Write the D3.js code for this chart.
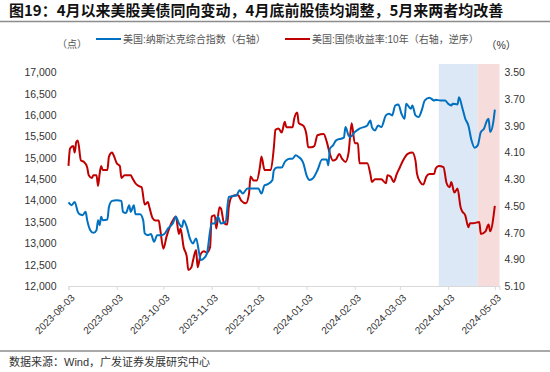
<!DOCTYPE html>
<html>
<head>
<meta charset="utf-8">
<script src="https://cdn.jsdelivr.net/npm/d3@7"></script>
<style>
  body { margin: 0; background: #fff; }
  svg text { font-family: "Liberation Sans", Arial, "Noto Sans CJK SC", sans-serif; }
</style>
</head>
<body>
<script>
// Data

const title = "图19：4月以来美股美债同向变动，4月底前股债均调整，5月来两者均改善";
const source = "数据来源：Wind，广发证券发展研究中心";
const seriesNames = ["美国:纳斯达克综合指数（右轴）", "美国:国债收益率:10年（右轴，逆序）"];
const leftTicks = [12000, 12500, 13000, 13500, 14000, 14500, 15000, 15500, 16000, 16500, 17000];
const rightTicks = [3.5, 3.7, 3.9, 4.1, 4.3, 4.5, 4.7, 4.9, 5.1];
const xTicks = ["2023-08-03", "2023-09-03", "2023-10-03", "2023-11-03", "2023-12-03",
  "2024-01-03", "2024-02-03", "2024-03-03", "2024-04-03", "2024-05-03"];
const xDomain = ["2023-08-03", "2024-05-06"];
const bands = [["2024-03-28", "2024-04-22"], ["2024-04-22", "2024-05-06"]];

const nasdaq = [
  ["2023-08-03",13959],["2023-08-05",13892],["2023-08-07",13969],["2023-08-09",13736],["2023-08-10",13682],
  ["2023-08-12",13659],["2023-08-14",13736],["2023-08-15",13542],["2023-08-17",13308],["2023-08-19",13245],
  ["2023-08-21",13308],["2023-08-22",13542],["2023-08-23",13425],["2023-08-24",13619],["2023-08-25",13542],
  ["2023-08-28",13558],["2023-08-29",13852],["2023-08-31",13993],["2023-09-03",14009],["2023-09-06",13993],
  ["2023-09-07",13736],["2023-09-09",13712],["2023-09-11",13892],["2023-09-12",13736],["2023-09-14",13892],
  ["2023-09-15",13682],["2023-09-18",13682],["2023-09-20",13542],["2023-09-21",13231],["2023-09-23",13191],
  ["2023-09-25",13215],["2023-09-27",13035],["2023-09-29",13191],["2023-10-02",13191],["2023-10-04",13231],
  ["2023-10-06",13348],["2023-10-07",13385],["2023-10-09",13465],["2023-10-11",13619],["2023-10-13",13465],
  ["2023-10-15",13385],["2023-10-16",13542],["2023-10-18",13385],["2023-10-20",13114],["2023-10-22",12997],
  ["2023-10-24",13114],["2023-10-26",12764],["2023-10-27",12607],["2023-10-29",12647],["2023-10-31",12764],
  ["2023-11-03",13465],["2023-11-05",13465],["2023-11-07",13619],["2023-11-09",13465],["2023-11-12",13502],
  ["2023-11-14",14086],["2023-11-16",14102],["2023-11-19",14126],["2023-11-21",14243],["2023-11-23",14165],
  ["2023-11-26",14282],["2023-11-29",14282],["2023-12-01",14282],["2023-12-03",14282],["2023-12-05",14165],
  ["2023-12-07",14359],["2023-12-09",14383],["2023-12-12",14476],["2023-12-13",14710],["2023-12-15",14773],
  ["2023-12-18",14773],["2023-12-20",14904],["2023-12-21",14943],["2023-12-23",14983],["2023-12-25",14983],
  ["2023-12-27",15060],["2023-12-29",15020],["2023-12-31",14943],["2024-01-01",14866],["2024-01-03",14593],
  ["2024-01-05",14483],["2024-01-07",14516],["2024-01-10",14710],["2024-01-13",14960],["2024-01-16",14960],
  ["2024-01-17",14827],["2024-01-18",15217],["2024-01-20",15294],["2024-01-22",15411],["2024-01-25",15450],
  ["2024-01-27",15474],["2024-01-28",15721],["2024-01-30",15527],["2024-01-31",15488],["2024-02-03",15604],
  ["2024-02-06",15684],["2024-02-11",15761],["2024-02-13",15878],["2024-02-14",15721],["2024-02-16",15644],
  ["2024-02-18",15761],["2024-02-20",15721],["2024-02-23",15995],["2024-02-25",16034],["2024-02-27",15995],
  ["2024-02-29",16228],["2024-03-02",16252],["2024-03-04",16034],["2024-03-06",15917],["2024-03-07",16268],
  ["2024-03-10",16151],["2024-03-11",16228],["2024-03-13",15995],["2024-03-15",15955],["2024-03-17",16111],
  ["2024-03-19",16345],["2024-03-22",16408],["2024-03-25",16345],["2024-03-26",16361],["2024-03-29",16345],
  ["2024-04-01",16345],["2024-04-03",16268],["2024-04-05",16228],["2024-04-06",16268],["2024-04-09",16252],
  ["2024-04-10",16422],["2024-04-12",16188],["2024-04-14",15917],["2024-04-16",15761],["2024-04-18",15411],
  ["2024-04-20",15240],["2024-04-22",15294],["2024-04-24",15604],["2024-04-26",15684],["2024-04-28",15878],
  ["2024-04-29",15917],["2024-04-30",15604],["2024-05-02",15838],["2024-05-03",16128]
];

const yield10y = [
  ["2023-08-03",4.20],["2023-08-04",4.07],["2023-08-06",4.05],["2023-08-07",4.10],["2023-08-08",4.02],
  ["2023-08-09",4.01],["2023-08-11",4.16],["2023-08-13",4.17],["2023-08-15",4.21],["2023-08-16",4.27],
  ["2023-08-18",4.29],["2023-08-19",4.27],["2023-08-21",4.27],["2023-08-22",4.35],["2023-08-23",4.26],
  ["2023-08-24",4.20],["2023-08-25",4.23],["2023-08-28",4.23],["2023-08-29",4.13],["2023-08-31",4.10],
  ["2023-09-01",4.12],["2023-09-03",4.18],["2023-09-05",4.20],["2023-09-06",4.29],["2023-09-08",4.27],
  ["2023-09-12",4.27],["2023-09-13",4.29],["2023-09-15",4.33],["2023-09-17",4.35],["2023-09-19",4.36],
  ["2023-09-21",4.49],["2023-09-23",4.47],["2023-09-24",4.51],["2023-09-26",4.59],["2023-09-28",4.61],
  ["2023-09-30",4.61],["2023-10-01",4.68],["2023-10-03",4.82],["2023-10-05",4.73],["2023-10-07",4.66],
  ["2023-10-09",4.61],["2023-10-11",4.58],["2023-10-13",4.71],["2023-10-14",4.67],["2023-10-16",4.81],
  ["2023-10-18",4.88],["2023-10-19",4.98],["2023-10-21",4.96],["2023-10-22",4.91],["2023-10-24",4.83],
  ["2023-10-25",4.96],["2023-10-27",4.86],["2023-10-29",4.84],["2023-10-31",4.85],["2023-11-02",4.81],
  ["2023-11-03",4.58],["2023-11-05",4.57],["2023-11-06",4.67],["2023-11-08",4.51],["2023-11-09",4.52],
  ["2023-11-11",4.63],["2023-11-13",4.64],["2023-11-14",4.51],["2023-11-16",4.43],["2023-11-18",4.42],
  ["2023-11-20",4.42],["2023-11-22",4.46],["2023-11-25",4.48],["2023-11-27",4.41],["2023-11-28",4.28],
  ["2023-11-30",4.31],["2023-12-02",4.31],["2023-12-04",4.21],["2023-12-05",4.13],["2023-12-07",4.23],
  ["2023-12-11",4.23],["2023-12-13",4.06],["2023-12-14",3.93],["2023-12-16",3.92],["2023-12-18",3.95],
  ["2023-12-20",3.87],["2023-12-21",3.91],["2023-12-25",3.91],["2023-12-26",3.85],["2023-12-28",3.80],
  ["2023-12-29",3.88],["2024-01-01",3.90],["2024-01-03",3.97],["2024-01-04",4.06],["2024-01-06",4.06],
  ["2024-01-08",4.05],["2024-01-10",3.97],["2024-01-14",3.96],["2024-01-16",4.02],["2024-01-18",4.11],
  ["2024-01-20",4.16],["2024-01-22",4.15],["2024-01-24",4.11],["2024-01-26",4.15],["2024-01-28",4.17],
  ["2024-01-30",4.10],["2024-02-01",3.88],["2024-02-03",4.03],["2024-02-05",4.03],["2024-02-06",4.18],
  ["2024-02-11",4.18],["2024-02-13",4.26],["2024-02-14",4.32],["2024-02-16",4.30],["2024-02-18",4.30],
  ["2024-02-20",4.30],["2024-02-23",4.33],["2024-02-24",4.27],["2024-02-26",4.28],["2024-02-28",4.32],
  ["2024-03-01",4.26],["2024-03-03",4.21],["2024-03-05",4.16],["2024-03-08",4.11],["2024-03-11",4.10],
  ["2024-03-13",4.16],["2024-03-14",4.26],["2024-03-16",4.32],["2024-03-18",4.34],["2024-03-20",4.28],
  ["2024-03-22",4.26],["2024-03-25",4.26],["2024-03-26",4.22],["2024-03-28",4.20],["2024-03-31",4.21],
  ["2024-04-02",4.33],["2024-04-04",4.36],["2024-04-05",4.32],["2024-04-07",4.40],["2024-04-09",4.37],
  ["2024-04-11",4.51],["2024-04-12",4.54],["2024-04-14",4.57],["2024-04-16",4.66],["2024-04-17",4.63],
  ["2024-04-19",4.63],["2024-04-23",4.62],["2024-04-24",4.71],["2024-04-27",4.69],["2024-04-29",4.64],
  ["2024-04-30",4.69],["2024-05-03",4.50]
];

// Set Dimensions

const width = 550, height = 372;
const plotLeft = 68.5, plotRight = 499.5, plotTop = 72.5, plotBottom = 286;
const blue = "#0070c0", red = "#c00000";
const parse = d3.timeParse("%Y-%m-%d");

const svg = d3.select("body").append("svg")
  .attr("width", width).attr("height", height);

// Header and footer

svg.append("text")
  .attr("x", 9).attr("y", 16)
  .attr("font-size", 15).attr("font-weight", "bold").attr("fill", "#111")
  .style("font-family", "\"Noto Sans CJK SC\", sans-serif")
  .text(title);

svg.append("line").attr("x1", 0).attr("x2", width).attr("y1", 21.5).attr("y2", 21.5)
  .attr("stroke", "#8c8c8c").attr("stroke-width", 1.5);
svg.append("line").attr("x1", 0).attr("x2", width).attr("y1", 351).attr("y2", 351)
  .attr("stroke", "#8c8c8c").attr("stroke-width", 1.5);

svg.append("text")
  .attr("x", 9).attr("y", 366)
  .attr("font-size", 11).attr("fill", "#333")
  .text(source);

// Scales

const x = d3.scaleTime().domain(xDomain.map(parse)).range([plotLeft, plotRight]);
const yL = d3.scaleLinear().domain([12000, 17000]).range([plotBottom, plotTop]);
const yR = d3.scaleLinear().domain([3.5, 5.1]).range([plotTop, plotBottom]);

// Shaded periods

svg.selectAll("rect.band")
  .data(bands)
  .join("rect")
  .attr("x", d => x(parse(d[0])))
  .attr("width", d => x(parse(d[1])) - x(parse(d[0])))
  .attr("y", 64).attr("height", plotBottom - 64)
  .attr("fill", (d, i) => i === 0 ? "#dce8f5" : "#f7dcdc");

// Axes

const axL = svg.append("g")
  .attr("transform", `translate(${plotLeft - 7},0)`)
  .call(d3.axisLeft(yL).tickValues(leftTicks).tickSize(0).tickPadding(5).tickFormat(d3.format(",")));
axL.select(".domain").remove();

const axR = svg.append("g")
  .attr("transform", `translate(${plotRight + 1},0)`)
  .call(d3.axisRight(yR).tickValues(rightTicks).tickSize(0).tickPadding(4).tickFormat(d3.format(".2f")));
axR.select(".domain").remove();

[axL, axR].forEach(g => g.selectAll("text")
  .attr("font-size", 10.5).attr("fill", "#333")
  .style("font-family", "\"Liberation Sans\", Arial, sans-serif"));

const axB = svg.append("g")
  .attr("transform", `translate(0,${plotBottom})`)
  .call(d3.axisBottom(x).tickValues(xTicks.map(parse)).tickSize(4).tickFormat(d3.timeFormat("%Y-%m-%d")));
axB.select(".domain").attr("stroke", "#d9d9d9");
axB.selectAll(".tick line").attr("stroke", "#d9d9d9");
axB.selectAll("text")
  .attr("font-size", 10).attr("fill", "#333")
  .attr("text-anchor", "end")
  .attr("dy", "0.35em")
  .attr("transform", "translate(4,10) rotate(-45)")
  .attr("y", 0).attr("x", 0);

// Lines

const lineL = d3.line().curve(d3.curveMonotoneX)
  .x(d => x(parse(d[0]))).y(d => yL(d[1]));
const lineR = d3.line().curve(d3.curveMonotoneX)
  .x(d => x(parse(d[0]))).y(d => yR(d[1]));

svg.append("path").datum(yield10y)
  .attr("fill", "none").attr("stroke", red).attr("stroke-width", 2)
  .attr("stroke-linejoin", "round").attr("d", lineR);

svg.append("path").datum(nasdaq)
  .attr("fill", "none").attr("stroke", blue).attr("stroke-width", 2)
  .attr("stroke-linejoin", "round").attr("d", lineL);

// Legend and unit labels

const legend = svg.append("g").attr("font-size", 10).attr("fill", "#555");
const legendItems = [{x: 96, color: blue, name: seriesNames[0]}, {x: 285, color: red, name: seriesNames[1]}];
legendItems.forEach(item => {
  legend.append("line").attr("x1", item.x).attr("x2", item.x + 25).attr("y1", 39).attr("y2", 39)
    .attr("stroke", item.color).attr("stroke-width", 2);
  legend.append("text").attr("x", item.x + 27).attr("y", 42.5).text(item.name);
});

svg.append("text").attr("x", 57).attr("y", 48).attr("font-size", 10).attr("fill", "#555").text("（点）");
svg.append("text").attr("x", 486).attr("y", 49).attr("font-size", 10.5).attr("fill", "#333").text("（%）");
</script>
</body>
</html>
